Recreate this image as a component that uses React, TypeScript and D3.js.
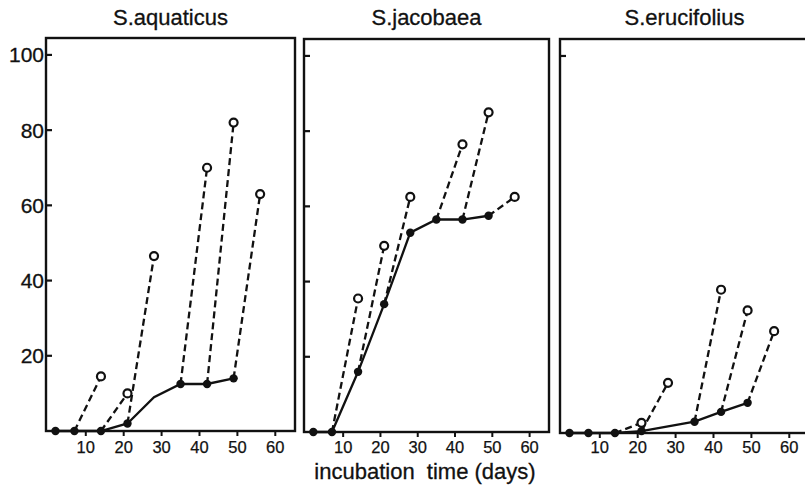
import React from 'react';
import * as d3 from 'd3';

// measured points (filled dots, solid line)
const aquaticusDays = [2, 7, 14, 21, 28, 35, 42, 49];
const aquaticusValues = [0, 0, 0, 2, 9, 12.5, 12.5, 14];
const aquaticusUnmarked = [28];
const aquaticusOpenStart = [7, 14, 21, 35, 42, 49];
const aquaticusOpenDay = [14, 21, 28, 42, 49, 56];
const aquaticusOpenValue = [14.5, 10, 46.5, 70, 82, 63];

const jacobaeaDays = [2, 7, 14, 21, 28, 35, 42, 49];
const jacobaeaValues = [0, 0, 16, 34, 53, 56.5, 56.5, 57.5];
const jacobaeaUnmarked: number[] = [];
const jacobaeaOpenStart = [7, 14, 21, 35, 42, 49];
const jacobaeaOpenDay = [14, 21, 28, 42, 49, 56];
const jacobaeaOpenValue = [35.5, 49.5, 62.5, 76.5, 85, 62.5];

const erucifoliusDays = [2, 7, 14, 21, 35, 42, 49];
const erucifoliusValues = [0, 0, 0, 0.5, 3, 5.6, 8];
const erucifoliusUnmarked: number[] = [];
const erucifoliusOpenStart = [14, 21, 35, 42, 49];
const erucifoliusOpenDay = [21, 28, 42, 49, 56];
const erucifoliusOpenValue = [2.7, 13.3, 38, 32.5, 27];

const xTicks = [10, 20, 30, 40, 50, 60];
const yTicks = [20, 40, 60, 80, 100];

const FONT = '"Liberation Sans", Arial, Helvetica, sans-serif';
const INK = '#111';

interface PanelProps {
  title: string;
  left: number;
  right: number;
  top: number;
  bottom: number;
  days: number[];
  values: number[];
  unmarked: number[];
  openStart: number[];
  openDay: number[];
  openValue: number[];
  yTickValues: number[];
  showYLabels: boolean;
}

const Panel: React.FC<PanelProps> = (p) => {
  const x = d3.scaleLinear().domain([-0.5, 65.2]).range([p.left, p.right]);
  const y = d3.scaleLinear().domain([0, 104.5]).range([p.bottom, p.top]);
  const line = d3.line<number>()
    .x((_, i) => x(p.days[i]))
    .y(d => y(d));
  const valueAt = (day: number) => p.values[p.days.indexOf(day)];

  return (
    <g>
      <text x={(p.left + p.right) / 2} y={25} textAnchor="middle"
        fontFamily={FONT} fontSize={22} fill={INK} stroke={INK} strokeWidth={0.3}>{p.title}</text>
      <rect x={p.left} y={p.top} width={p.right - p.left} height={p.bottom - p.top}
        fill="none" stroke={INK} strokeWidth={2.4} />
      {p.yTickValues.map(t => (
        <line key={'yt' + t} x1={p.left} x2={p.left + 6} y1={y(t)} y2={y(t)}
          stroke={INK} strokeWidth={2.2} />
      ))}
      {p.showYLabels && yTicks.map(t => (
        <text key={'yl' + t} x={p.left - 2} y={y(t)} dy="0.36em" textAnchor="end"
          fontFamily={FONT} fontSize={21} fill={INK} stroke={INK} strokeWidth={0.3}>{t}</text>
      ))}
      {xTicks.map(t => (
        <g key={'xt' + t}>
          <line x1={x(t)} x2={x(t)} y1={p.bottom} y2={p.bottom + 5} stroke={INK} strokeWidth={2} />
          <text x={x(t)} y={453} textAnchor="middle" fontFamily={FONT} fontSize={16.5}
            fill={INK} stroke={INK} strokeWidth={0.25}>{t}</text>
        </g>
      ))}
      {p.openDay.map((d, i) => (
        <line key={'dl' + i}
          x1={x(p.openStart[i])} y1={y(valueAt(p.openStart[i]))}
          x2={x(d)} y2={y(p.openValue[i])}
          stroke={INK} strokeWidth={2.3} strokeDasharray="7,4" />
      ))}
      <path d={line(p.values) || ''} fill="none" stroke={INK} strokeWidth={2.3} />
      {p.days.map((d, i) => p.unmarked.includes(d) ? null : (
        <circle key={'fd' + i} cx={x(d)} cy={y(p.values[i])} r={4.2} fill={INK} />
      ))}
      {p.openDay.map((d, i) => (
        <circle key={'oc' + i} cx={x(d)} cy={y(p.openValue[i])} r={4}
          fill="#fff" stroke={INK} strokeWidth={2.2} />
      ))}
    </g>
  );
};

export default function App() {
  return (
    <svg width={805} height={489} style={{ position: 'absolute', left: 0, top: 0, background: '#fff' }}>
      <rect width={805} height={489} fill="#fff" />
      <Panel title="S.aquaticus" left={46} right={295} top={38} bottom={431}
        days={aquaticusDays} values={aquaticusValues} unmarked={aquaticusUnmarked}
        openStart={aquaticusOpenStart} openDay={aquaticusOpenDay} openValue={aquaticusOpenValue}
        yTickValues={yTicks} showYLabels={true} />
      <Panel title="S.jacobaea" left={304} right={549} top={39} bottom={432}
        days={jacobaeaDays} values={jacobaeaValues} unmarked={jacobaeaUnmarked}
        openStart={jacobaeaOpenStart} openDay={jacobaeaOpenDay} openValue={jacobaeaOpenValue}
        yTickValues={yTicks} showYLabels={false} />
      <Panel title="S.erucifolius" left={560} right={809} top={39} bottom={433}
        days={erucifoliusDays} values={erucifoliusValues} unmarked={erucifoliusUnmarked}
        openStart={erucifoliusOpenStart} openDay={erucifoliusOpenDay} openValue={erucifoliusOpenValue}
        yTickValues={[100]} showYLabels={false} />
      <text x={425} y={479} textAnchor="middle" fontFamily={FONT} fontSize={22} fill={INK}
        stroke={INK} strokeWidth={0.3} style={{ whiteSpace: 'pre' }}>{'incubation  time (days)'}</text>
    </svg>
  );
}
